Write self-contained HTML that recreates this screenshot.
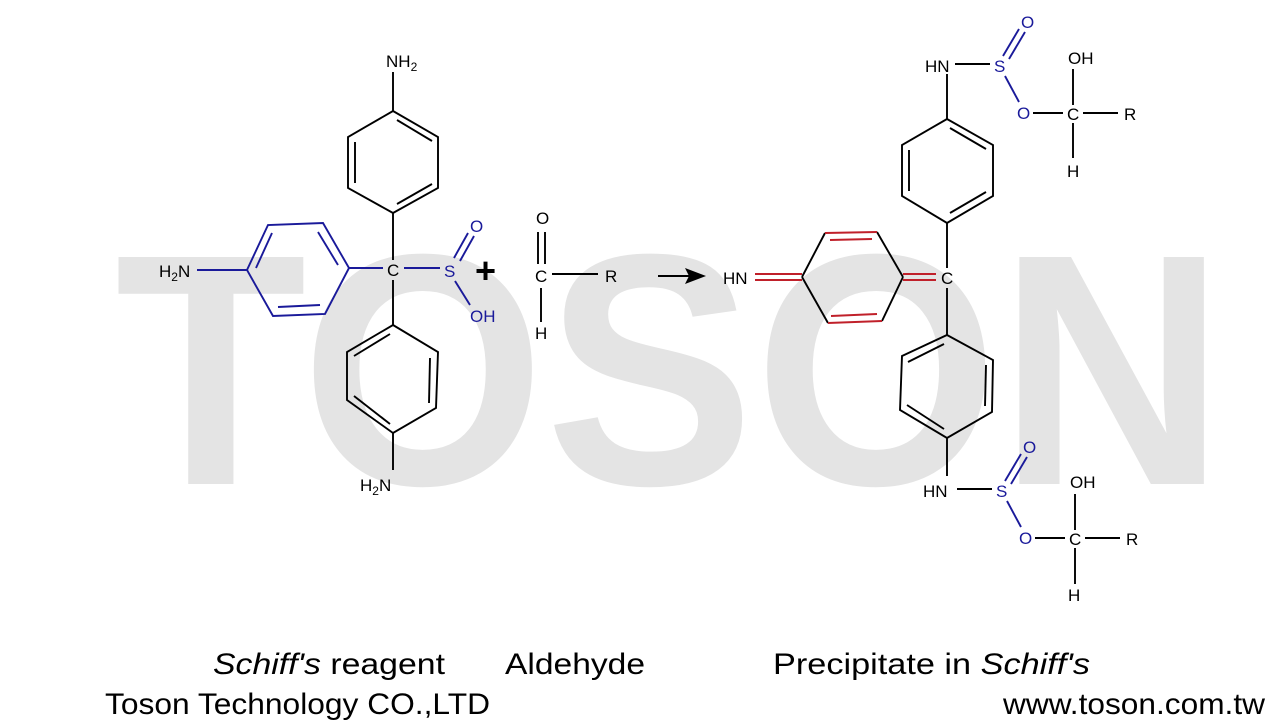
<!DOCTYPE html>
<html><head><meta charset="utf-8"><style>
html,body{margin:0;padding:0;background:#fff;}
svg{display:block;}
</style></head><body>
<svg width="1280" height="720" viewBox="0 0 1280 720" xmlns="http://www.w3.org/2000/svg" font-family="Liberation Sans, Arial, sans-serif">
<text x="115" y="484" font-size="330" font-weight="bold" fill="#e4e4e4" textLength="1110" lengthAdjust="spacingAndGlyphs">TOSON</text>

<g stroke="#000" stroke-width="1.9" fill="none">
<line x1="393" y1="72" x2="393" y2="111"/>
<polygon points="393,111 438,137 438,188 393,213 348,188 348,137"/>
<line x1="397" y1="120" x2="432" y2="141"/>
<line x1="355" y1="142" x2="355" y2="183"/>
<line x1="432" y1="184" x2="397" y2="204"/>
<line x1="393" y1="213" x2="393" y2="260"/>
<line x1="393" y1="280" x2="393" y2="325"/>
<polygon points="393,325 438,352 436,408 393,433 347,400 347,352"/>
<line x1="390" y1="334" x2="354" y2="356"/>
<line x1="430" y1="358" x2="429" y2="403"/>
<line x1="354" y1="396" x2="390" y2="424"/>
<line x1="393" y1="433" x2="393" y2="470"/>
<line x1="538" y1="232" x2="538" y2="264"/>
<line x1="545" y1="232" x2="545" y2="264"/>
<line x1="552" y1="274" x2="598" y2="274"/>
<line x1="541" y1="288" x2="541" y2="322"/>
<line x1="658" y1="276" x2="690" y2="276"/>
</g>
<polygon points="706,276 685,268 689,276 685,284" fill="#000"/>
<g stroke="#1a1a9a" stroke-width="1.9" fill="none">
<line x1="197" y1="270" x2="247" y2="270"/>
<polygon points="349,268 323,223 268,225 247,270 273,316 325,314"/>
<line x1="318" y1="232" x2="338" y2="265"/>
<line x1="256" y1="268" x2="272" y2="233"/>
<line x1="278" y1="307" x2="320" y2="305"/>
<line x1="349" y1="268" x2="383" y2="268"/>
<line x1="404" y1="268" x2="440" y2="268"/>
<line x1="454" y1="258" x2="468" y2="233"/>
<line x1="460" y1="261" x2="474" y2="236"/>
<line x1="455" y1="281" x2="470" y2="305"/>
</g>
<g font-size="17" fill="#000">
<text x="386" y="67">NH<tspan font-size="12" dy="4">2</tspan></text>
<text x="159" y="277">H<tspan font-size="12" dy="4">2</tspan><tspan dy="-4">N</tspan></text>
<text x="387" y="276">C</text>
<text x="360" y="491">H<tspan font-size="12" dy="4">2</tspan><tspan dy="-4">N</tspan></text>
<text x="536" y="224">O</text>
<text x="535" y="282">C</text>
<text x="605" y="282">R</text>
<text x="535" y="339">H</text>
</g>
<g font-size="17" fill="#1a1a9a">
<text x="444" y="277">S</text>
<text x="470" y="232">O</text>
<text x="470" y="322">OH</text>
</g>
<text x="475" y="283" font-size="36" font-weight="bold" fill="#000">+</text>

<g stroke="#000" stroke-width="1.9" fill="none">
<line x1="955" y1="64" x2="990" y2="64"/>
<line x1="947" y1="74" x2="947" y2="119"/>
<polygon points="947,119 993,145 993,196 947,223 902,196 902,145"/>
<line x1="950" y1="128" x2="986" y2="149"/>
<line x1="909" y1="150" x2="909" y2="191"/>
<line x1="986" y1="192" x2="950" y2="213"/>
<line x1="947" y1="223" x2="947" y2="268"/>
<line x1="947" y1="288" x2="947" y2="335"/>
<polygon points="947,335 993,360 992,412 947,438 900,410 902,356"/>
<line x1="944" y1="344" x2="908" y2="362"/>
<line x1="986" y1="365" x2="985" y2="406"/>
<line x1="907" y1="405" x2="944" y2="429"/>
<line x1="947" y1="438" x2="947" y2="476"/>
<line x1="957" y1="489" x2="992" y2="489"/>
<line x1="802" y1="277" x2="825" y2="233"/>
<line x1="877" y1="232" x2="903" y2="277"/>
<line x1="903" y1="277" x2="882" y2="321"/>
<line x1="828" y1="323" x2="802" y2="277"/>
<line x1="1033" y1="113" x2="1063" y2="113"/>
<line x1="1083" y1="113" x2="1118" y2="113"/>
<line x1="1073" y1="69" x2="1073" y2="105"/>
<line x1="1073" y1="123" x2="1073" y2="158"/>
<line x1="1035" y1="538" x2="1065" y2="538"/>
<line x1="1085" y1="538" x2="1120" y2="538"/>
<line x1="1075" y1="494" x2="1075" y2="530"/>
<line x1="1075" y1="548" x2="1075" y2="584"/>
</g>
<g stroke="#c0202a" stroke-width="1.9" fill="none">
<line x1="755" y1="274" x2="802" y2="274"/>
<line x1="755" y1="280" x2="802" y2="280"/>
<line x1="825" y1="233" x2="877" y2="232"/>
<line x1="830" y1="240" x2="872" y2="239"/>
<line x1="828" y1="323" x2="882" y2="321"/>
<line x1="831" y1="316" x2="877" y2="314"/>
<line x1="903" y1="274" x2="936" y2="274"/>
<line x1="903" y1="280" x2="936" y2="280"/>
</g>
<g stroke="#1a1a9a" stroke-width="1.9" fill="none">
<line x1="1003" y1="56" x2="1019" y2="29"/>
<line x1="1009" y1="59" x2="1025" y2="32"/>
<line x1="1005" y1="76" x2="1019" y2="102"/>
<line x1="1005" y1="481" x2="1021" y2="454"/>
<line x1="1011" y1="484" x2="1027" y2="457"/>
<line x1="1007" y1="501" x2="1021" y2="527"/>
</g>
<g font-size="17" fill="#000">
<text x="925" y="72">HN</text>
<text x="1067" y="120">C</text>
<text x="1124" y="120">R</text>
<text x="1068" y="64">OH</text>
<text x="1067" y="177">H</text>
<text x="723" y="284">HN</text>
<text x="941" y="284">C</text>
<text x="923" y="497">HN</text>
<text x="1069" y="545">C</text>
<text x="1126" y="545">R</text>
<text x="1070" y="488">OH</text>
<text x="1068" y="601">H</text>
</g>
<g font-size="17" fill="#1a1a9a">
<text x="994" y="72">S</text>
<text x="1021" y="28">O</text>
<text x="1017" y="119">O</text>
<text x="996" y="497">S</text>
<text x="1023" y="453">O</text>
<text x="1019" y="544">O</text>
</g>

<g font-size="30" fill="#000">
<text x="213" y="674" textLength="232" lengthAdjust="spacingAndGlyphs"><tspan font-style="italic">Schiff's</tspan> reagent</text>
<text x="505" y="674" textLength="140" lengthAdjust="spacingAndGlyphs">Aldehyde</text>
<text x="773" y="674" textLength="317" lengthAdjust="spacingAndGlyphs">Precipitate in <tspan font-style="italic">Schiff's</tspan></text>
<text x="105" y="714" textLength="385" lengthAdjust="spacingAndGlyphs">Toson Technology  CO.,LTD</text>
<text x="1003" y="714" textLength="262" lengthAdjust="spacingAndGlyphs">www.toson.com.tw</text>
</g>
</svg>
</body></html>
